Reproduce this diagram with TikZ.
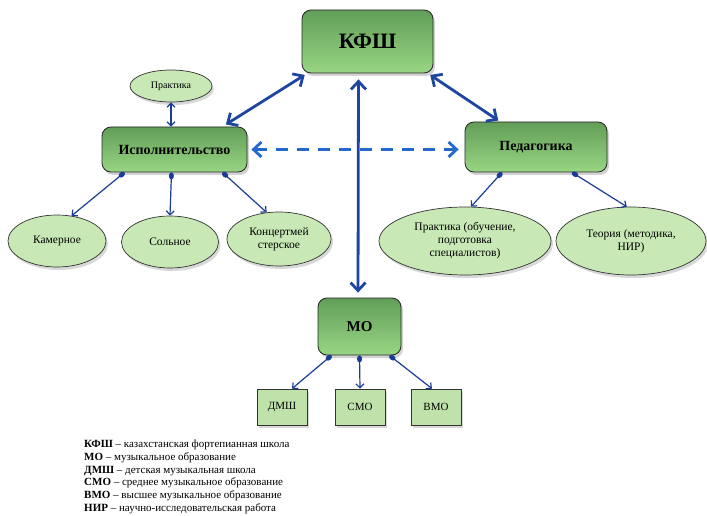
\documentclass[tikz,border=0pt]{standalone}
\usepackage{fontspec}
\setmainfont{Liberation Serif}
\usetikzlibrary{arrows.meta,shapes.geometric,shadows}
\definecolor{thickblue}{RGB}{30,70,160}
\definecolor{thinblue}{RGB}{25,60,150}
\definecolor{dashblue}{RGB}{35,105,205}
\definecolor{boxtop}{RGB}{98,158,88}
\definecolor{boxbot}{RGB}{152,214,132}
\definecolor{ellfill}{RGB}{200,232,182}
\definecolor{smallfill}{RGB}{190,226,170}
\tikzset{
  mainbox/.style={draw=black!85, line width=0.8pt, rounded corners=9pt, top color=boxtop, bottom color=boxbot,
    inner sep=0pt, font=\bfseries, drop shadow={shadow xshift=2pt, shadow yshift=-3pt, opacity=0.35}},
  leaf/.style={ellipse, draw=black!80, line width=0.7pt, fill=ellfill, inner sep=0pt, align=center,
    font=\fontsize{11.5}{13}\selectfont, drop shadow={shadow xshift=2pt, shadow yshift=-3pt, opacity=0.3}},
  smallbox/.style={draw=black!80, line width=0.7pt, fill=smallfill, inner sep=0pt,
    minimum width=50pt, minimum height=36pt, font=\fontsize{11}{12}\selectfont,
    drop shadow={shadow xshift=2pt, shadow yshift=-3pt, opacity=0.3}},
  bigtip/.style={Straight Barb[length=8pt,width=15pt]},
  thickarr/.style={draw=thickblue, line width=2.8pt, {Straight Barb[length=8pt,width=15pt]}-{Straight Barb[length=8pt,width=15pt]}},
  dasharr/.style={draw=dashblue, line width=2.8pt, dash pattern=on 12pt off 9pt, {Straight Barb[length=8pt,width=15pt]}-{Straight Barb[length=8pt,width=15pt]}},
  thinarr/.style={draw=thinblue, line width=1.2pt, {Ellipse[length=7pt,width=5pt]}-{Straight Barb[length=4pt,width=8pt]}},
  thindbl/.style={draw=thinblue, line width=1.2pt, {Straight Barb[length=4pt,width=8pt]}-{Straight Barb[length=4pt,width=8pt]}},
}
\begin{document}
\begin{tikzpicture}[x=1pt,y=-1pt]
\useasboundingbox (0,0) rectangle (707,516);
\fill[white] (0,0) rectangle (707,516);

% main boxes
\node[mainbox, minimum width=131pt, minimum height=63pt, font=\bfseries\fontsize{22}{24}\selectfont] (kfsh) at (367.5,41.5) {КФШ};
\node[mainbox, minimum width=145pt, minimum height=45pt, font=\bfseries\fontsize{14}{16}\selectfont] (isp) at (174.5,149.5) {Исполнительство};
\node[mainbox, minimum width=142pt, minimum height=50pt, font=\bfseries\fontsize{14}{16}\selectfont] (ped) at (536,147) {Педагогика};
\node[mainbox, minimum width=83pt, minimum height=57pt, font=\bfseries\fontsize{15}{17}\selectfont] (mo) at (359.5,326.5) {МО};

% ellipses
\node[leaf, minimum width=82pt, minimum height=32pt, font=\fontsize{10}{12}\selectfont] (prak) at (171,86) {Практика};
\node[leaf, minimum width=98pt, minimum height=52pt] (kam) at (57,241) {Камерное};
\node[leaf, minimum width=97pt, minimum height=52pt] (sol) at (170,242) {Сольное};
\node[leaf, minimum width=104pt, minimum height=54pt] (konc) at (279,239) {Концертмей\\стерское};
\node[leaf, minimum width=172pt, minimum height=68pt] (pob) at (465,241) {Практика (обучение,\\подготовка\\специалистов)};
\node[leaf, minimum width=150pt, minimum height=68pt] (teor) at (631,241) {Теория (методика,\\НИР)};

% small boxes
\node[smallbox] (dmsh) at (282,407) {ДМШ};
\node[smallbox] (smo) at (360,407) {СМО};
\node[smallbox] (vmo) at (436,407) {ВМО};

% thick arrows
\draw[thickarr, shorten <=1pt, shorten >=4pt] ([xshift=4pt,yshift=-1pt]kfsh.south west) -- ([xshift=48pt]isp.north);
\draw[thickarr, shorten <=1pt, shorten >=2pt] ([xshift=-4pt,yshift=-1pt]kfsh.south east) -- ([xshift=-36pt]ped.north);
\draw[thickarr, shorten <=6pt, shorten >=5pt] ([xshift=-9pt]kfsh.south) -- ([xshift=-1.5pt]mo.north);
\draw[dasharr, shorten <=4pt, shorten >=6pt] (isp.east) -- (isp.east -| ped.west);

% thin arrows
\draw[thindbl] (prak.south) -- (prak.south |- isp.north);
\draw[thinarr] ([xshift=-50pt]isp.south) -- (kam.60);
\draw[thinarr] ([xshift=-3pt]isp.south) -- (sol.north);
\draw[thinarr] ([xshift=48pt]isp.south) -- (konc.115);
\draw[thinarr] ([xshift=-34pt]ped.south) -- (pob.80);
\draw[thinarr] ([xshift=36pt]ped.south) -- (teor.97);
\draw[thinarr] ([xshift=-28pt]mo.south) -- ([xshift=10pt]dmsh.north);
\draw[thinarr] ([xshift=0pt]mo.south) -- (smo.north);
\draw[thinarr] ([xshift=30pt]mo.south) -- ([xshift=-4pt]vmo.north);

% legend
\node[anchor=north west, align=left, inner sep=0pt, font=\fontsize{11}{12.7}\selectfont] (legend) at (84,440)
{\textbf{КФШ} – казахстанская фортепианная школа\\
\textbf{МО} – музыкальное образование\\
\textbf{ДМШ} – детская музыкальная школа\\
\textbf{СМО} – среднее музыкальное образование\\
\textbf{ВМО} – высшее музыкальное образование\\
\textbf{НИР} – научно-исследовательская работа};
\end{tikzpicture}
\end{document}
